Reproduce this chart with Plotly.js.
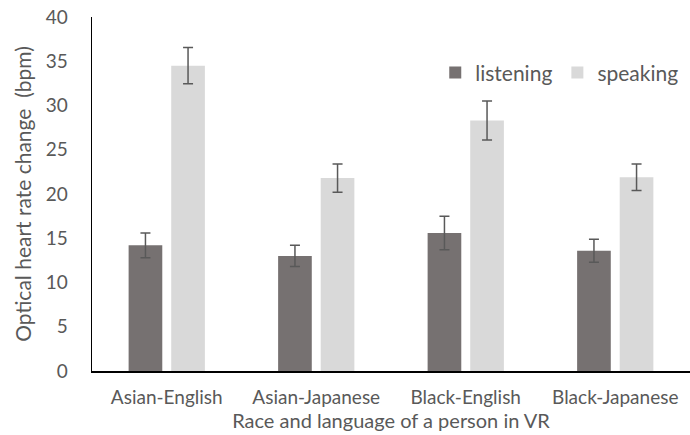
<!DOCTYPE html>
<html>
<head>
<meta charset="utf-8">
<script src="https://cdn.plot.ly/plotly-3.0.1.min.js"></script>
<style>html,body{margin:0;padding:0;background:#fff;}#chart{width:690px;height:435px;}</style>
</head>
<body>
<div id="chart"></div>
<script>
const categories = ["Asian-English", "Asian-Japanese", "Black-English", "Black-Japanese"];
const listening = [14.2, 13.0, 15.6, 13.6];
const listeningErr = [1.4, 1.2, 1.9, 1.3];
const speaking = [34.5, 21.8, 28.3, 21.9];
const speakingErr = [2.05, 1.6, 2.2, 1.5];

const textColor = "#595959";
const fam = "Lato, 'Open Sans', sans-serif";

const traces = [
  {type: "bar", name: "listening", x: categories, y: listening,
   marker: {color: "#767171"},
   error_y: {type: "data", array: listeningErr, visible: true, color: "#595959", thickness: 1.5, width: 5}},
  {type: "bar", name: "speaking", x: categories, y: speaking,
   marker: {color: "#d9d9d9"},
   error_y: {type: "data", array: speakingErr, visible: true, color: "#595959", thickness: 1.5, width: 5}}
];

const layout = {
  width: 690, height: 435,
  margin: {l: 92, r: 0, t: 17, b: 64},
  paper_bgcolor: "#fff", plot_bgcolor: "#fff",
  font: {family: fam, size: 18, color: textColor},
  barmode: "group",
  bargap: 0.43,
  bargroupgap: 0.21,
  showlegend: true,
  legend: {orientation: "h", x: 0.574, xanchor: "left", y: 0.9, yanchor: "top",
           itemwidth: 30,
           font: {family: fam, size: 21, color: textColor}, bgcolor: "rgba(0,0,0,0)"},
  xaxis: {
    showline: true, linecolor: "#000", linewidth: 2, ticks: "", showgrid: false,
    ticklabelstandoff: 8,
    tickfont: {family: fam, size: 19, color: textColor},
    title: {text: "Race and language of a person in VR", font: {family: fam, size: 20, color: textColor}, standoff: 0}
  },
  yaxis: {
    range: [0, 40], dtick: 5, showline: true, linecolor: "#000", linewidth: 1.5,
    showgrid: false, zeroline: false, ticks: "", ticklabelstandoff: 19,
    tickfont: {family: fam, size: 19, color: textColor},
    title: {text: "Optical heart rate change  (bpm)", font: {family: fam, size: 21, color: textColor}, standoff: 8}
  }
};

Plotly.newPlot("chart", traces, layout, {displayModeBar: false, staticPlot: true});
</script>
</body>
</html>
